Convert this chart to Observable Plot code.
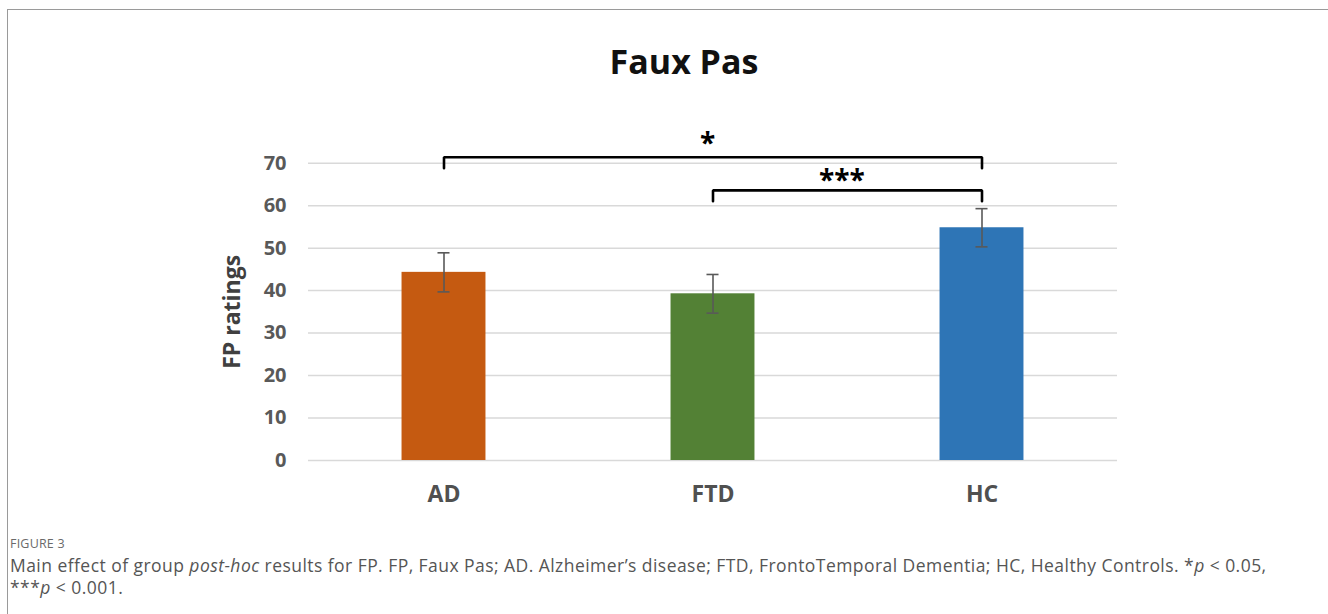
<!DOCTYPE html>
<html>
<head>
<meta charset="utf-8">
<script src="https://cdn.jsdelivr.net/npm/d3@7"></script>
<script src="https://cdn.jsdelivr.net/npm/@observablehq/plot@0.6"></script>
<style>
  html, body { margin: 0; padding: 0; background: #fff; }
  #page { position: relative; width: 1328px; height: 614px; overflow: hidden; background: #fff; }
  #frame { position: absolute; left: 7px; top: 9px; width: 1330px; height: 700px;
           border-left: 1px solid #9a9a9a; border-top: 1px solid #9a9a9a; }
  #title { position: absolute; left: 684px; top: 44px; transform: translateX(-50%);
           font: bold 34px "Open Sans", sans-serif; line-height: 34px; color: #111; white-space: nowrap; }
  #chart { position: absolute; left: 0; top: 0; }
  #figlabel { position: absolute; left: 10px; top: 535px; font: 12.5px "Open Sans", sans-serif;
              color: #6a6a6a; letter-spacing: 0.2px; }
  #caption { position: absolute; left: 10px; top: 555px; width: 1300px; font: 17.5px "Open Sans", sans-serif;
             letter-spacing: 0.45px; line-height: 21.7px; color: #555; }
</style>
</head>
<body>
<div id="page">
  <div id="frame"></div>
  <div id="chart"></div>
  <div id="title">Faux Pas</div>
  <div id="figlabel">FIGURE 3</div>
  <div id="caption">Main effect of group <i>post-hoc</i> results for FP. FP, Faux Pas; AD. Alzheimer’s disease; FTD, FrontoTemporal Dementia; HC, Healthy Controls. *<i>p</i> &lt; 0.05,<br>***<i>p</i> &lt; 0.001.</div>
</div>
<script>
// ---- data ----
const groups = ["AD", "FTD", "HC"];
const means = [44.3, 39.25, 54.8];
const errors = [4.6, 4.55, 4.5];
const barColors = ["#C55A11", "#538135", "#2E75B6"];
const yTicks = [0, 10, 20, 30, 40, 50, 60, 70];

// significance brackets
const bracketFrom = ["AD", "FTD"];
const bracketTo = ["HC", "HC"];
const bracketLevel = [71.4, 63.6];
const bracketLeg = [68.8, 61.05];
const bracketLabel = ["*", "***"];
const bracketLabelY = [77.2, 68.3];

// ---- build tables ----
const bars = groups.map((g, i) => ({group: g, mean: means[i], lo: means[i] - errors[i], hi: means[i] + errors[i], color: barColors[i]}));
const bracketPts = [];
bracketFrom.forEach((f, i) => {
  bracketPts.push({id: i, x: f, y: bracketLeg[i]});
  bracketPts.push({id: i, x: f, y: bracketLevel[i]});
  bracketPts.push({id: i, x: bracketTo[i], y: bracketLevel[i]});
  bracketPts.push({id: i, x: bracketTo[i], y: bracketLeg[i]});
});

const fontFam = '"Open Sans", sans-serif';
const W = 1328, H = 530;
const step = (1117 - 308) / 3;

// one text mark per label, offset to the midpoint between the bracket ends
const labelMarks = bracketFrom.map((f, i) => {
  const span = groups.indexOf(bracketTo[i]) - groups.indexOf(f);
  return Plot.text([{x: f, y: bracketLabelY[i], label: bracketLabel[i]}], {
    x: "x", y: "y", text: "label", dx: span * step / 2 - 6,
    lineAnchor: "top", fontSize: 28, fontWeight: "bold", fill: "#000"
  });
});

const plot = Plot.plot({
  width: W,
  height: H,
  marginLeft: 308,
  marginRight: 211,
  marginTop: 162.7,
  marginBottom: 70,
  style: {fontFamily: fontFam, background: "transparent", overflow: "visible"},
  x: {domain: groups, padding: 0, label: null},
  y: {domain: [0, 70], label: null},
  marks: [
    Plot.ruleY(yTicks, {stroke: "#d9d9d9", strokeWidth: 1.5}),
    Plot.barY(bars, {x: "group", y: "mean", fill: "color",
      insetLeft: (step - 84.6) / 2, insetRight: (step - 84.6) / 2}),
    Plot.ruleX(bars, {x: "group", y1: "lo", y2: "hi", stroke: "#595959", strokeWidth: 1.6}),
    Plot.tickY(bars, {x: "group", y: "lo", stroke: "#595959", strokeWidth: 1.6,
      insetLeft: (step - 12.7) / 2, insetRight: (step - 12.7) / 2}),
    Plot.tickY(bars, {x: "group", y: "hi", stroke: "#595959", strokeWidth: 1.6,
      insetLeft: (step - 12.7) / 2, insetRight: (step - 12.7) / 2}),
    Plot.line(bracketPts.filter(d => d.id === 0), {x: "x", y: "y", stroke: "#000", strokeWidth: 2.6,
      strokeLinejoin: "miter", dx: 0}),
    Plot.line(bracketPts.filter(d => d.id === 1), {x: "x", y: "y", stroke: "#000", strokeWidth: 2.6,
      strokeLinejoin: "miter", dx: 0}),
    ...labelMarks,
    Plot.axisY(yTicks, {tickSize: 0, tickPadding: 22, fontSize: 20, fontWeight: "bold",
      fill: "#595959", label: null}),
    Plot.axisX({tickSize: 0, tickPadding: 25, fontSize: 23, fontWeight: "bold",
      fill: "#505050", label: null}),
    Plot.text(["FP ratings"], {frameAnchor: "left", textAnchor: "middle", dx: -76, rotate: -90,
      fontSize: 23, fontWeight: "bold", fill: "#404040"})
  ]
});
document.getElementById("chart").appendChild(plot);
</script>
</body>
</html>
